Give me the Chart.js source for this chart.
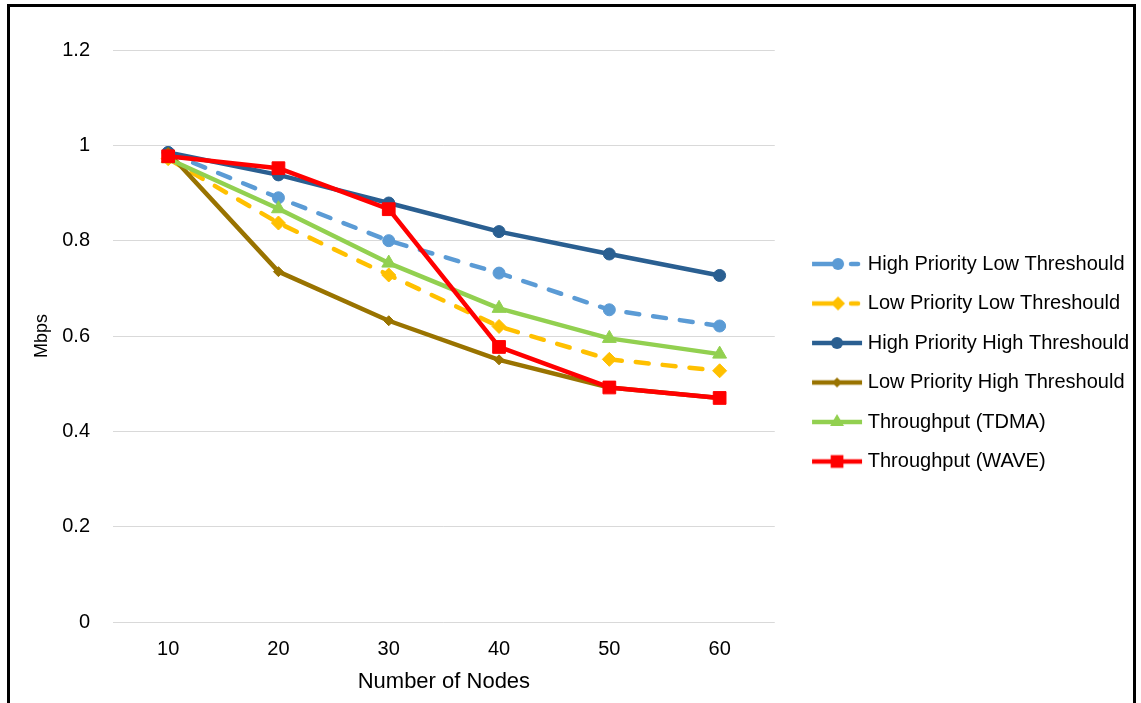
<!DOCTYPE html>
<html>
<head>
<meta charset="utf-8">
<script src="https://cdn.jsdelivr.net/npm/chart.js@4.4.1/dist/chart.umd.min.js"></script>
<style>
  html, body { margin: 0; padding: 0; background: #fff; overflow: hidden; }
  #wrap { position: relative; width: 1141px; height: 703px; }
  #frame { position: absolute; left: 7px; top: 4px; width: 1123px; height: 720px; border: 3px solid #000; pointer-events: none; }
  #chart { position: absolute; left: 0; top: 0; }
</style>
</head>
<body>
<div id="wrap">
  <canvas id="chart" width="1141" height="703"></canvas>
  <div id="frame"></div>
</div>
<script>
// values
const nodes = ['10', '20', '30', '40', '50', '60'];
const yTicks = [0, 0.2, 0.4, 0.6, 0.8, 1, 1.2];

const hpLowThr = [0.985, 0.89, 0.80, 0.732, 0.655, 0.621];
const lpLowThr = [0.972, 0.837, 0.728, 0.62, 0.551, 0.527];
const hpHighThr = [0.985, 0.938, 0.879, 0.819, 0.772, 0.727];
const lpHighThr = [0.985, 0.735, 0.632, 0.55, 0.492, 0.47];
const tdma = [0.972, 0.867, 0.753, 0.658, 0.595, 0.562];
const wave = [0.977, 0.952, 0.866, 0.577, 0.492, 0.47];

const FONT = "'Liberation Sans', Arial, Helvetica, sans-serif";

const series = [
    { label: 'High Priority Low Threshould', data: hpLowThr, color: '#5B9BD5', marker: 'circle', r: 6, dashed: true },
    { label: 'Low Priority Low Threshould', data: lpLowThr, color: '#FFC000', marker: 'rectRot', r: 7, dashed: true },
    { label: 'High Priority High Threshould', data: hpHighThr, color: '#2A5F91', marker: 'circle', r: 6, dashed: false },
    { label: 'Low Priority High Threshould', data: lpHighThr, color: '#997300', marker: 'rectRot', r: 5, dashed: false },
    { label: 'Throughput (TDMA)', data: tdma, color: '#92D050', marker: 'triangle', r: 8, dashed: false },
    { label: 'Throughput (WAVE)', data: wave, color: '#FF0000', marker: 'rect', r: 9, dashed: false },
];

// small line + marker picture for each legend entry (like the office legend)
function drawMarker(c, kind, x, y, r) {
    c.beginPath();
    if (kind === 'circle') {
        c.arc(x, y, r, 0, Math.PI * 2);
    } else if (kind === 'rectRot') {
        c.moveTo(x, y - r); c.lineTo(x + r, y); c.lineTo(x, y + r); c.lineTo(x - r, y);
    } else if (kind === 'triangle') {
        const w = r * Math.sin(Math.PI / 3);
        c.moveTo(x, y - r); c.lineTo(x + w, y + r / 2); c.lineTo(x - w, y + r / 2);
    } else {
        const s = r * Math.SQRT1_2;
        c.rect(x - s, y - s, s * 2, s * 2);
    }
    c.closePath();
    c.fill();
}

function legendIcon(s) {
    const cv = document.createElement('canvas');
    cv.width = 74;
    cv.height = 22;
    const c = cv.getContext('2d');
    const x0 = 23, x1 = 73, y = 11;
    c.strokeStyle = s.color;
    c.fillStyle = s.color;
    c.lineWidth = 4.5;
    if (s.dashed) {
        c.beginPath(); c.moveTo(x0, y); c.lineTo(x0 + 27, y); c.stroke();
        c.lineCap = 'round';
        c.beginPath(); c.moveTo(x0 + 39, y); c.lineTo(x0 + 46, y); c.stroke();
    } else {
        c.beginPath(); c.moveTo(x0, y); c.lineTo(x1, y); c.stroke();
    }
    drawMarker(c, s.marker, s.dashed ? x0 + 26 : (x0 + x1) / 2, y, s.r);
    return cv;
}

const icons = series.map(legendIcon);

const ctx = document.getElementById('chart').getContext('2d');
const chart = new Chart(ctx, {
    type: 'line',
    data: {
        labels: nodes,
        datasets: series.map((s, i) => ({
            label: s.label,
            data: s.data,
            // later series sit on top, as in the original
            order: series.length - i,
            borderColor: s.color,
            backgroundColor: s.color,
            borderWidth: 4.5,
            borderDash: s.dashed ? [13, 14] : [],
            borderCapStyle: s.dashed ? 'round' : 'butt',
            borderJoinStyle: 'round',
            pointStyle: s.marker,
            pointRadius: s.r,
            pointBorderWidth: 1,
            pointHoverRadius: s.r,
            tension: 0,
            fill: false
        }))
    },
    options: {
        responsive: false,
        animation: false,
        layout: { padding: { left: 10, top: 50, right: 2, bottom: 0 } },
        plugins: {
            tooltip: { enabled: false },
            legend: {
                position: 'right',
                align: 'start',
                maxWidth: 400,
                title: {
                    display: true,
                    text: ' ',
                    font: { size: 10, lineHeight: 1 },
                    padding: { top: 0, bottom: 174.5 }
                },
                labels: {
                    usePointStyle: true,
                    pointStyleWidth: 63.5,
                    padding: 19.5,
                    color: '#000',
                    font: { family: FONT, size: 20 },
                    generateLabels: chart => {
                        const items = Chart.defaults.plugins.legend.labels.generateLabels(chart);
                        items.sort((a, b) => a.datasetIndex - b.datasetIndex);
                        items.forEach(it => { it.pointStyle = icons[it.datasetIndex]; });
                        return items;
                    }
                }
            }
        },
        scales: {
            x: {
                type: 'category',
                offset: true,
                grid: { display: false },
                border: { display: false },
                ticks: { color: '#000', padding: 7, font: { family: FONT, size: 20 } },
                title: {
                    display: true,
                    text: 'Number of Nodes',
                    color: '#000',
                    font: { family: FONT, size: 22 },
                    padding: { top: 0, bottom: 8 }
                },
                afterFit: s => { s.height = 81; }
            },
            y: {
                min: 0,
                max: 1.2,
                afterBuildTicks: s => { s.ticks = yTicks.map(v => ({ value: v })); },
                grid: { color: '#D9D9D9', lineWidth: 1, drawTicks: false },
                border: { display: false },
                ticks: {
                    color: '#000',
                    padding: 23,
                    font: { family: FONT, size: 20 },
                    callback: v => String(Number(v.toFixed(1)))
                },
                title: {
                    display: true,
                    text: 'Mbps',
                    color: '#000',
                    font: { family: FONT, size: 18 },
                    padding: { top: 21, bottom: 0 }
                },
                afterFit: s => { s.width = 103; }
            }
        }
    }
});
</script>
</body>
</html>
